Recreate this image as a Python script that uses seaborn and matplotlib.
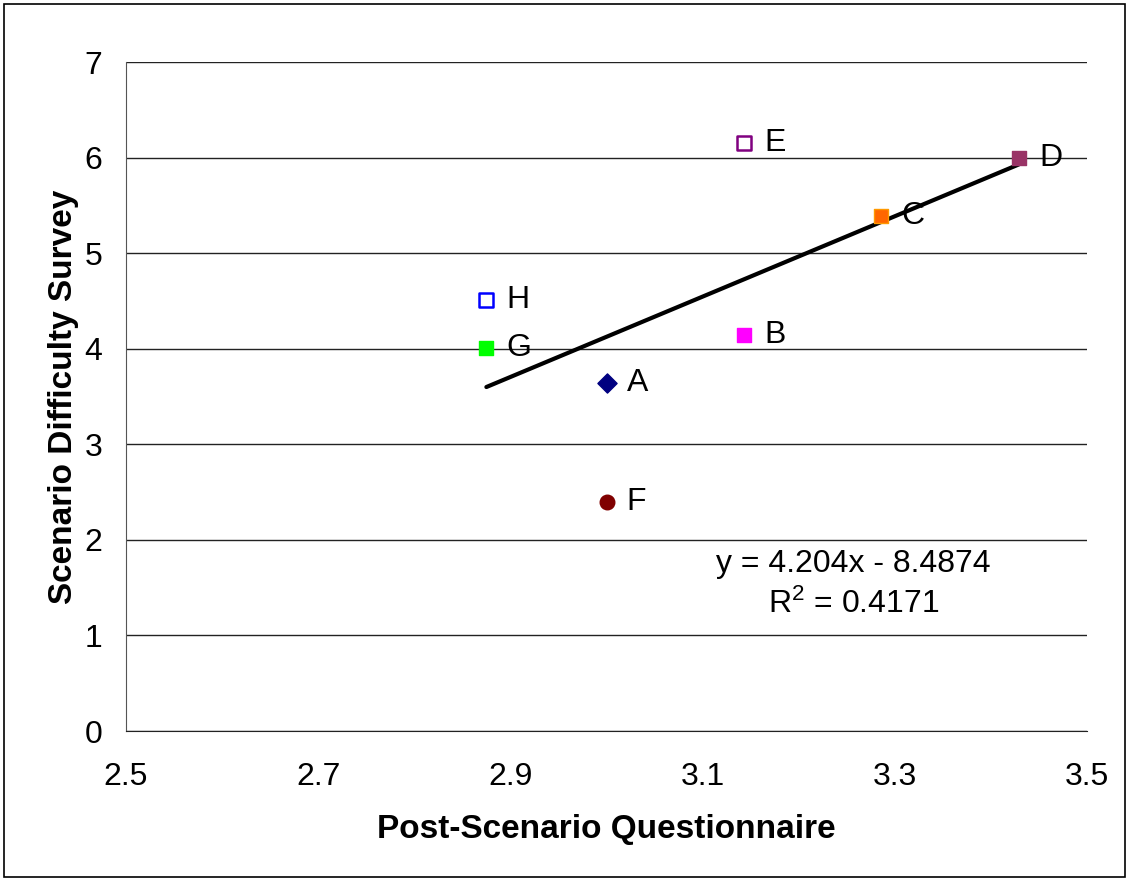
import matplotlib
matplotlib.use("Agg")
import matplotlib.pyplot as plt
import seaborn as sns
import pandas as pd
import numpy as np
from matplotlib.patches import Rectangle

# Scenario scores
labels = ["A", "B", "C", "D", "E", "F", "G", "H"]
questionnaire = [3.000, 3.143, 3.286, 3.429, 3.143, 3.000, 2.875, 2.875]
difficulty = [3.64, 4.14, 5.39, 6.00, 6.15, 2.40, 4.01, 4.51]
markers = ["D", "s", "s", "s", "s", "o", "s", "s"]
face_colors = ["#000080", "#FF00FF", "#FF6600", "#993366", "white", "#800000", "#00FF00", "white"]
edge_colors = ["#000080", "#FF00FF", "#FF9900", "#993366", "#800080", "#800000", "#00FF00", "#0000FF"]

# Linear trend line
slope = 4.204
intercept = -8.4874
r_squared = 0.4171

df = pd.DataFrame({"label": labels, "x": questionnaire, "y": difficulty})

sns.set_style("white")
plt.rcParams["font.family"] = ["Liberation Sans", "DejaVu Sans"]
plt.rcParams["text.color"] = "black"
plt.rcParams["axes.labelcolor"] = "black"
plt.rcParams["xtick.labelcolor"] = "black"
plt.rcParams["ytick.labelcolor"] = "black"

fig = plt.figure(figsize=(11.29, 8.8), dpi=100)
ax = fig.add_axes([126 / 1129, 1 - 731 / 880, (1087 - 126) / 1129, (731 - 62) / 880])

# Figure frame
fig.patches.append(Rectangle((4 / 1129, 3 / 880), 1121 / 1129, 873 / 880,
                             transform=fig.transFigure, fill=False,
                             edgecolor="black", linewidth=1.2))

for i, row in df.iterrows():
    sub = df.iloc[[i]]
    sns.scatterplot(data=sub, x="x", y="y", ax=ax, marker=markers[i],
                    s=110 if markers[i] != "D" else 95,
                    color=face_colors[i], edgecolor=edge_colors[i],
                    linewidth=1.8 if face_colors[i] == "white" else 1.0,
                    zorder=4, legend=False)
    ax.text(row["x"] + 0.021, row["y"], row["label"], fontsize=23,
            va="center", ha="left", zorder=5, color="black")

xs = np.array([min(questionnaire), max(questionnaire)])
trend = pd.DataFrame({"x": xs, "y": slope * xs + intercept})
sns.lineplot(data=trend, x="x", y="y", ax=ax, color="black", linewidth=3.0, zorder=3)

ax.text(3.257, 1.53, f"y = {slope}x - {-intercept}\n$\\mathregular{{R^2}}$ = {r_squared}",
        fontsize=23, ha="center", va="center", linespacing=1.4, color="black")

ax.set_xlim(2.5, 3.5)
ax.set_ylim(0, 7)
ax.set_xticks([2.5, 2.7, 2.9, 3.1, 3.3, 3.5])
ax.set_yticks(range(0, 8))
ax.yaxis.grid(True, color="#222222", linewidth=1.0)
ax.xaxis.grid(False)
ax.set_axisbelow(True)
for side in ["top", "right"]:
    ax.spines[side].set_visible(False)
ax.spines["left"].set_color("#555555")
ax.spines["bottom"].set_color("#222222")
ax.tick_params(axis="both", direction="out", length=8, width=1, color="#555555",
               labelsize=23)
ax.tick_params(axis="x", pad=14)
ax.tick_params(axis="y", pad=9)

ax.set_xlabel("Post-Scenario Questionnaire", fontsize=24, fontweight="bold", labelpad=16)
ax.set_ylabel("Scenario Difficulty Survey", fontsize=24, fontweight="bold", labelpad=4)

fig.savefig("out.png", dpi=100)
